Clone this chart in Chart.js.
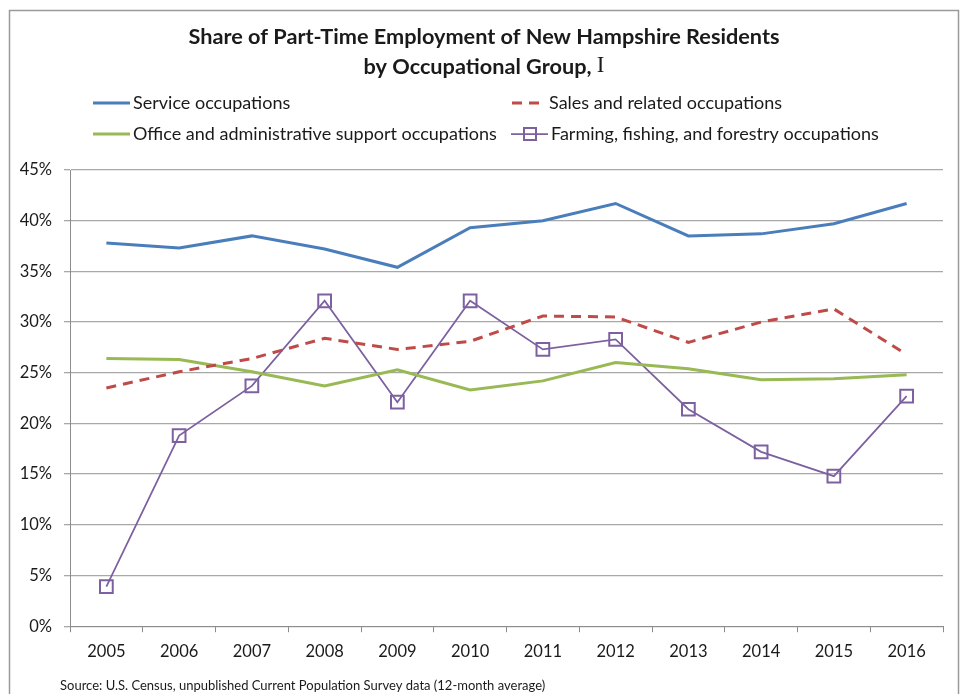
<!DOCTYPE html>
<html>
<head>
<meta charset="utf-8">
<script src="https://cdn.jsdelivr.net/npm/chart.js@4"></script>
<style>
  html, body { margin: 0; padding: 0; background: #fff; }
  #wrap { position: relative; width: 962px; height: 694px; }
</style>
</head>
<body>
<div id="wrap"><canvas id="chart" width="962" height="694"></canvas></div>
<script>
// data
const years = ['2005', '2006', '2007', '2008', '2009', '2010', '2011', '2012', '2013', '2014', '2015', '2016'];
const serviceOcc = [37.8, 37.3, 38.5, 37.2, 35.4, 39.3, 40.0, 41.7, 38.5, 38.7, 39.7, 41.7];
const salesOcc = [23.5, 25.1, 26.4, 28.4, 27.3, 28.1, 30.6, 30.5, 28.0, 30.0, 31.3, 26.8];
const officeOcc = [26.4, 26.3, 25.1, 23.7, 25.3, 23.3, 24.2, 26.0, 25.4, 24.3, 24.4, 24.8];
const farmingOcc = [3.9, 18.8, 23.7, 32.1, 22.1, 32.1, 27.3, 28.3, 21.4, 17.2, 14.8, 22.7];
const seriesNames = [
    'Service occupations',
    'Sales and related occupations',
    'Office and administrative support occupations',
    'Farming, fishing, and forestry occupations'
];
const titleLines = ['Share of Part-Time Employment of New Hampshire Residents', 'by Occupational Group, '];
const titleMark = 'I';
const sourceNote = 'Source: U.S. Census, unpublished Current Population Survey data (12-month average)';

const FONT = 'Lato, "Open Sans", sans-serif';
const TEXT_COLOR = '#1a1a1a';

// title, legend, frame and source note drawn on the canvas
const decorPlugin = {
    id: 'decor',
    beforeDraw(chart) {
        const ctx = chart.ctx;
        ctx.save();
        ctx.fillStyle = '#fff';
        ctx.fillRect(0, 0, chart.width, chart.height);
        ctx.strokeStyle = '#9a9a9a';
        ctx.lineWidth = 1.5;
        ctx.strokeRect(9.5, 10.5, 949, 700);
        ctx.restore();
    },
    afterDraw(chart) {
        const ctx = chart.ctx;
        ctx.save();
        ctx.fillStyle = TEXT_COLOR;
        ctx.textBaseline = 'middle';

        // title
        const titleFont = 'bold 21.7px ' + FONT;
        const markFont = '23px "Liberation Serif", serif';
        ctx.font = titleFont;
        ctx.textAlign = 'center';
        ctx.fillText(titleLines[0], 484, 37);
        const w1 = ctx.measureText(titleLines[1]).width;
        ctx.font = markFont;
        const w2 = ctx.measureText(titleMark).width;
        const x0 = 484 - (w1 + w2) / 2;
        ctx.textAlign = 'left';
        ctx.font = titleFont;
        ctx.fillText(titleLines[1], x0, 67);
        ctx.font = markFont;
        ctx.fillText(titleMark, x0 + w1, 66);

        // legend
        const slots = [
            { x: 93, y: 103 }, { x: 509, y: 103 },
            { x: 93, y: 134 }, { x: 511, y: 134 }
        ];
        chart.data.datasets.forEach((ds, i) => {
            const s = slots[i];
            ctx.strokeStyle = ds.borderColor;
            ctx.lineWidth = ds.borderWidth;
            ctx.beginPath();
            if (ds.borderDash) {
                ctx.setLineDash(ds.borderDash);
                ctx.moveTo(s.x + 3, s.y);
                ctx.lineTo(s.x + 30, s.y);
            } else {
                ctx.moveTo(s.x, s.y);
                ctx.lineTo(s.x + 37, s.y);
            }
            ctx.stroke();
            ctx.setLineDash([]);
            if (ds.pointRadius > 0) {
                ctx.lineWidth = ds.pointBorderWidth;
                ctx.strokeRect(s.x + 13, s.y - 6, 12, 12);
            }
            ctx.fillStyle = TEXT_COLOR;
            ctx.font = '18px ' + FONT;
            ctx.textAlign = 'left';
            ctx.fillText(ds.label, s.x + 40, s.y);
        });

        // source
        ctx.font = '13px ' + FONT;
        ctx.fillText(sourceNote, 60, 686);
        ctx.restore();
    }
};

new Chart(document.getElementById('chart'), {
    type: 'line',
    data: {
        labels: years,
        datasets: [
            {
                label: seriesNames[0],
                data: serviceOcc,
                borderColor: '#4a7ebb',
                borderWidth: 3,
                pointRadius: 0,
                tension: 0
            },
            {
                label: seriesNames[1],
                data: salesOcc,
                borderColor: '#be4b48',
                borderWidth: 3,
                borderDash: [10, 7],
                pointRadius: 0,
                tension: 0
            },
            {
                label: seriesNames[2],
                data: officeOcc,
                borderColor: '#98b954',
                borderWidth: 3,
                pointRadius: 0,
                tension: 0
            },
            {
                label: seriesNames[3],
                data: farmingOcc,
                borderColor: '#7d60a0',
                borderWidth: 1.75,
                pointStyle: 'rect',
                pointRadius: 9,
                pointHoverRadius: 9,
                pointBorderWidth: 2,
                pointBorderColor: '#7d60a0',
                pointBackgroundColor: 'rgba(0,0,0,0)',
                tension: 0
            }
        ]
    },
    options: {
        responsive: false,
        animation: false,
        layout: { padding: { top: 170, right: 19, bottom: 22, left: 0 } },
        plugins: {
            legend: { display: false },
            title: { display: false },
            tooltip: { enabled: false }
        },
        scales: {
            x: {
                offset: true,
                grid: {
                    offset: true,
                    drawOnChartArea: false,
                    drawTicks: true,
                    tickLength: 6,
                    color: '#8c8c8c'
                },
                border: { color: '#8c8c8c', width: 1 },
                ticks: {
                    color: TEXT_COLOR,
                    font: { family: FONT, size: 16.5 },
                    padding: 10,
                    maxRotation: 0
                }
            },
            y: {
                min: 0,
                max: 45,
                afterFit(scale) { scale.width = 70; },
                grid: {
                    color: '#a8a8a8',
                    tickLength: 6,
                    lineWidth: 1.3
                },
                border: { color: '#8c8c8c', width: 1 },
                ticks: {
                    stepSize: 5,
                    color: TEXT_COLOR,
                    font: { family: FONT, size: 16.5 },
                    padding: 12,
                    callback: v => v + '%'
                }
            }
        }
    },
    plugins: [decorPlugin]
});
</script>
</body>
</html>
